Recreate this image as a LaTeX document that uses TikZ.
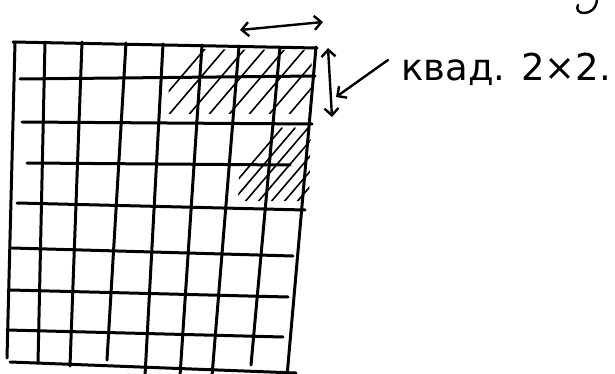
\documentclass[tikz,border=0pt]{standalone}
\usepackage{fontspec}
\newfontfamily\handfont{DejaVu Sans}
\usetikzlibrary{arrows.meta}

\begin{document}
\begin{tikzpicture}[x=1pt, y=-1pt,
  >={Straight Barb[length=7pt,width=14pt]},
  pen/.style={draw, line width=3pt, line cap=round, line join=round},
  hatch/.style={draw, line width=1.6pt, line cap=round},
  dbl/.style={<->, draw, line width=2.4pt, line cap=round},
  ptr/.style={->, draw, line width=2.4pt, line cap=round},
  label/.style={font=\handfont\fontsize{37}{37}\selectfont, inner sep=0pt, anchor=base west},
]
\useasboundingbox (0,0) rectangle (615,374);

% grid: vertical strokes (top x/y, bottom x/y)
\foreach \xa/\ya/\xb/\yb in {15/42/7/358, 45/42/38/363, 82/42/70/366, 126/43/107/360,
    163/44/145/376, 202/45/180/376, 239/46/212/376, 280/47/251/365, 316/47/287/376}
  \draw[pen] (\xa,\ya) -- (\xb,\yb);
% grid: horizontal strokes
\foreach \xa/\ya/\xb/\yb in {13/42/317/48, 20/79/315/76, 22/122/312/124, 27/163/290/165,
    17/203/305/210, 12/248/293/256, 10/290/288/297, 7/330/283/337, 10/362/296/373}
  \draw[pen] (\xa,\ya) -- (\xb,\yb);

% hatched squares
\begin{scope}
  \clip (170,49) -- (312,50) -- (310,114) -- (168,114) -- cycle;
  \foreach \s in {140,160,...,330}
    \draw[hatch] (\s,125) -- ++(70,-82);
\end{scope}
\begin{scope}
  \clip (241,127) -- (311,127) -- (309,201) -- (238,201) -- cycle;
  \foreach \s in {212,225,...,320}
    \draw[hatch] (\s,210) -- ++(70,-82);
\end{scope}

% size arrows
\coordinate (hl) at (240,30);
\coordinate (hr) at (323,22);
\coordinate (vt) at (328,48);
\coordinate (vb) at (332,117);
\draw[dbl] (hl) -- (hr);
\draw[dbl] (vt) -- (vb);

\node[label] (size) at (401,81) {квад. 2×2.};
\coordinate (ptail) at (388,60);
\coordinate (phead) at (336,97);
\draw[ptr] (ptail) -- (phead);

% piece of a letter cut by the top edge
\draw[line width=2.4pt, line cap=round] (597,0) .. controls (596,9) and (590,13) .. (584,13)
  .. controls (578,13) and (576,9) .. (578,5);
\end{tikzpicture}
\end{document}
